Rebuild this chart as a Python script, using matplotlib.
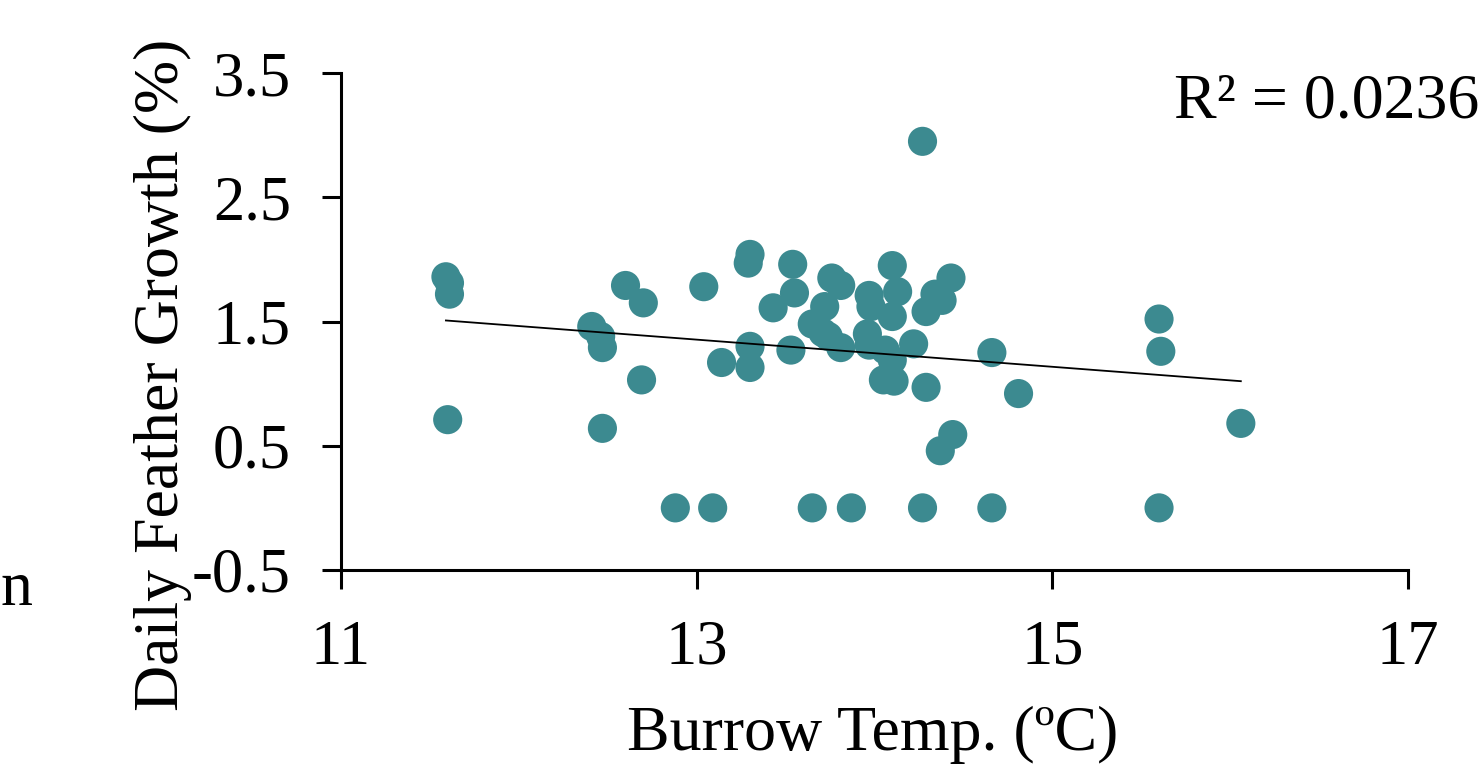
import numpy as np
import matplotlib
matplotlib.use("Agg")
import matplotlib.pyplot as plt

# ---- data ----
burrow_temp = [11.59, 11.61, 11.61, 11.60, 12.41, 12.46, 12.47, 12.47, 12.60, 12.70,
               12.69, 12.88, 13.04, 13.09, 13.14, 13.30, 13.29, 13.30, 13.30, 13.43,
               13.54, 13.55, 13.53, 13.65, 13.65, 13.72, 13.71, 13.76, 13.81, 13.74,
               13.81, 13.87, 13.97, 13.98, 13.96, 13.97, 14.06, 14.10, 14.13, 14.10,
               14.10, 14.05, 14.11, 14.22, 14.27, 14.29, 14.27, 14.29, 14.34, 14.38,
               14.43, 14.44, 14.37, 14.66, 14.66, 14.81, 15.60, 15.61, 15.60, 16.06]
feather_growth = [1.86, 1.81, 1.72, 0.71, 1.46, 1.38, 1.29, 0.64, 1.79, 1.65,
                  1.03, 0.00, 1.78, 0.00, 1.17, 2.04, 1.97, 1.30, 1.13, 1.61,
                  1.96, 1.73, 1.27, 1.48, 0.00, 1.62, 1.41, 1.85, 1.79, 1.38,
                  1.29, 0.00, 1.71, 1.62, 1.40, 1.31, 1.27, 1.95, 1.74, 1.54,
                  1.19, 1.03, 1.02, 1.32, 2.95, 0.97, 0.00, 1.58, 1.72, 1.67,
                  1.85, 0.59, 0.46, 1.25, 0.00, 0.92, 1.52, 1.26, 0.00, 0.68]
r2_label = "R² = 0.0236"
x_ticks = [11, 13, 15, 17]
y_ticks = [-0.5, 0.5, 1.5, 2.5, 3.5]
y_tick_labels = ["-0.5", "0.5", "1.5", "2.5", "3.5"]

W, H = 1483, 766
fig = plt.figure(figsize=(W / 100, H / 100), dpi=100)
plt.rcParams['font.family'] = ['Liberation Serif', 'DejaVu Serif']
ax = fig.add_axes([341 / W, 1 - 570 / H, (1408 - 341) / W, (570 - 73) / H])

teal = '#3C8A90'
ax.scatter(burrow_temp, feather_growth, s=440, color=teal, edgecolors='none', zorder=3,
           clip_on=False)

# linear trendline
xs = np.array(burrow_temp)
ys = np.array(feather_growth)
slope, intercept = np.polyfit(xs, ys, 1)
xl = np.array([xs.min(), xs.max()])
ax.plot(xl, slope * xl + intercept, color='black', lw=1.3, zorder=4)

ax.set_xlim(11, 17)
ax.set_ylim(-0.5, 3.5)
ax.set_xticks(x_ticks)
ax.set_xticklabels([str(t) for t in x_ticks])
ax.set_yticks(y_ticks)
ax.set_yticklabels(y_tick_labels)
for s in ['top', 'right']:
    ax.spines[s].set_visible(False)
for s in ['left', 'bottom']:
    ax.spines[s].set_linewidth(2.2)
ax.tick_params(axis='both', direction='out', length=14, width=2.2, labelsize=45)
ax.tick_params(axis='y', pad=22)
ax.tick_params(axis='x', pad=22)

fig.text(873 / W, 1 - 735 / H, "Burrow Temp. (ºC)", ha='center', va='center', fontsize=46)
fig.text(163 / W, 1 - 375 / H, "Daily Feather Growth (%)", ha='center', va='center',
         rotation=90, fontsize=46)
fig.text(1479 / W, 1 - 103 / H, r2_label, ha='right', va='center', fontsize=46)
fig.text(0, 1 - 590 / H, "n", ha='left', va='center', fontsize=46)

fig.savefig("out.png", dpi=100)
